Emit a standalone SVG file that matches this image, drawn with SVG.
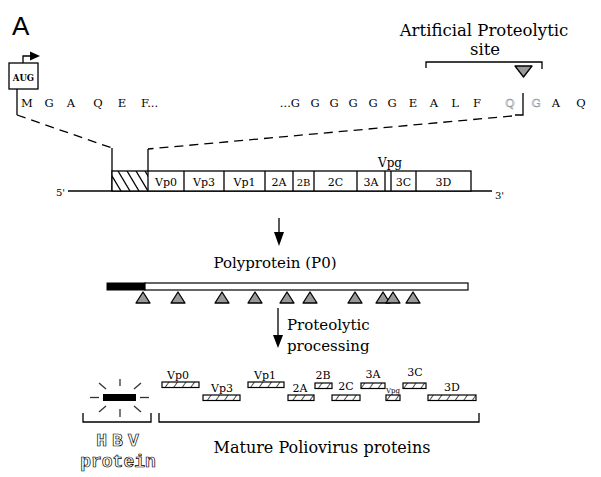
<svg xmlns="http://www.w3.org/2000/svg" width="601" height="477" viewBox="0 0 601 477">
<style>
.s{font-family:"DejaVu Serif","Liberation Serif",serif;fill:#000}
.seq{font-family:"DejaVu Serif","Liberation Serif",serif;font-size:11.5px;text-anchor:middle;fill:#000}
.ghost{font-family:"DejaVu Serif","Liberation Serif",serif;font-size:11.5px;text-anchor:middle;fill:#fff;stroke:#999;stroke-width:0.6}
.lbl{font-family:"DejaVu Serif","Liberation Serif",serif;font-size:11px;text-anchor:middle;fill:#000}
.ln{stroke:#000;stroke-width:1.3;fill:none}
.dash{stroke:#000;stroke-width:1.3;fill:none;stroke-dasharray:9 6}
.box{fill:#fff;stroke:#000;stroke-width:1.3}
.mp{fill:url(#hatch);stroke:#000;stroke-width:1.2}
.tri{fill:#999;stroke:#000;stroke-width:1.3;stroke-linejoin:round}
.ray{stroke:#333;stroke-width:1.3}
.hbv{font-family:"Liberation Mono","DejaVu Sans Mono",monospace;font-size:18px;font-weight:bold;text-anchor:middle;fill:#fff;stroke:#000;stroke-width:0.7}
</style>
<defs>
<pattern id="hatch" patternUnits="userSpaceOnUse" width="7" height="7" patternTransform="rotate(35)">
<rect width="7" height="7" fill="#fff"/>
<line x1="0" y1="0" x2="0" y2="7" stroke="#000" stroke-width="1.4"/>
</pattern>
<clipPath id="hclip"><rect x="112" y="171" width="36" height="20"/></clipPath>
</defs>

<text class="s" x="12" y="35" style="font-family:'Liberation Sans',Arial,sans-serif;font-size:26px">A</text>

<g id="aug">
<rect class="box" x="9" y="63" width="29" height="26"/>
<text class="s" x="23.5" y="81" text-anchor="middle" font-size="8.5" font-weight="bold">AUG</text>
<polyline class="ln" points="23,63 23,56 31,56"/>
<polygon points="30,51.5 40,56 30,60.5" fill="#000"/>
</g>

<g id="sequence">
<text class="seq" x="27" y="107">M</text>
<text class="seq" x="49" y="107">G</text>
<text class="seq" x="71" y="107">A</text>
<text class="seq" x="98" y="107">Q</text>
<text class="seq" x="122" y="107">E</text>
<text class="seq" x="141" y="107" style="text-anchor:start">F...</text>
<text class="seq" x="300" y="107" style="text-anchor:end">...G</text>
<text class="seq" x="315" y="107">G</text>
<text class="seq" x="334" y="107">G</text>
<text class="seq" x="353" y="107">G</text>
<text class="seq" x="373" y="107">G</text>
<text class="seq" x="392" y="107">G</text>
<text class="seq" x="413" y="107">E</text>
<text class="seq" x="434" y="107">A</text>
<text class="seq" x="455" y="107">L</text>
<text class="seq" x="477" y="107">F</text>
<text class="ghost" x="510" y="107">Q</text>
<text class="ghost" x="536" y="107">G</text>
<text class="seq" x="556" y="107">A</text>
<text class="seq" x="581" y="107">Q</text>
</g>

<g id="site">
<text class="s" x="484" y="36" text-anchor="middle" font-size="16.5">Artificial Proteolytic</text>
<text class="s" x="485" y="55" text-anchor="middle" font-size="16.5">site</text>
<polyline class="ln" points="426,68 426,62 542,62 542,69"/>
<polygon class="tri" points="515,66 532,66 523.5,77"/>
</g>

<g id="connectors">
<polyline class="ln" points="17,89 17,115"/>
<line class="dash" x1="17" y1="115" x2="112" y2="148"/>
<line class="ln" x1="112" y1="148" x2="112" y2="191"/>
<polyline class="ln" points="523,93 523,115 515,115"/>
<line class="dash" x1="512" y1="116" x2="148" y2="149"/>
<line class="ln" x1="148" y1="149" x2="148" y2="171"/>
<line class="ln" x1="279" y1="218" x2="279" y2="236"/>
<polygon points="274,232 284,232 279,246" fill="#000"/>
<line class="ln" x1="278" y1="308" x2="278" y2="338"/>
<polygon points="273,335 283,335 278,348" fill="#000"/>
</g>

<g id="gene">
<text class="s" x="56" y="196" font-size="10">5'</text>
<line class="ln" x1="68" y1="191" x2="492" y2="191"/>
<rect class="box" x="112" y="171" width="359" height="20"/>
<g clip-path="url(#hclip)" stroke="#000" stroke-width="1.3">
<line x1="100" y1="171" x2="112" y2="191"/>
<line x1="109" y1="171" x2="121" y2="191"/>
<line x1="118" y1="171" x2="130" y2="191"/>
<line x1="127" y1="171" x2="139" y2="191"/>
<line x1="136" y1="171" x2="148" y2="191"/>
<line x1="145" y1="171" x2="157" y2="191"/>
</g>
<g class="ln">
<line x1="148" y1="171" x2="148" y2="191"/>
<line x1="184" y1="171" x2="184" y2="191"/>
<line x1="224" y1="171" x2="224" y2="191"/>
<line x1="265" y1="171" x2="265" y2="191"/>
<line x1="293" y1="171" x2="293" y2="191"/>
<line x1="314" y1="171" x2="314" y2="191"/>
<line x1="357" y1="171" x2="357" y2="191"/>
<line x1="385" y1="171" x2="385" y2="191"/>
<line x1="391" y1="171" x2="391" y2="191"/>
<line x1="416" y1="171" x2="416" y2="191"/>
</g>
<text class="lbl" x="166" y="186">Vp0</text>
<text class="lbl" x="204" y="186">Vp3</text>
<text class="lbl" x="244.5" y="186">Vp1</text>
<text class="lbl" x="279" y="186">2A</text>
<text class="lbl" x="303.5" y="186" style="font-size:10px">2B</text>
<text class="lbl" x="335.5" y="186">2C</text>
<text class="lbl" x="371" y="186">3A</text>
<text class="lbl" x="403.5" y="186">3C</text>
<text class="lbl" x="443.5" y="186">3D</text>
<text class="lbl" x="390" y="167" style="font-size:12px">Vpg</text>
<text class="s" x="495" y="199" font-size="10">3'</text>
</g>

<g id="polyprotein">
<text class="s" x="275" y="268" text-anchor="middle" font-size="15">Polyprotein (P0)</text>
<rect x="107" y="283" width="38" height="7" fill="#000" stroke="#000" stroke-width="1"/>
<rect x="145" y="283" width="323" height="7" fill="#fff" stroke="#000" stroke-width="1.2"/>
<polygon class="tri" points="136,303 150,303 143,292"/>
<polygon class="tri" points="171,303 185,303 178,292"/>
<polygon class="tri" points="215,303 229,303 222,292"/>
<polygon class="tri" points="248,303 262,303 255,292"/>
<polygon class="tri" points="280,303 294,303 287,292"/>
<polygon class="tri" points="303,303 317,303 310,292"/>
<polygon class="tri" points="348,303 362,303 355,292"/>
<polygon class="tri" points="376,303 390,303 383,292"/>
<polygon class="tri" points="386,303 400,303 393,292"/>
<polygon class="tri" points="406,303 420,303 413,292"/>
</g>

<g id="processing">
<text class="s" x="287" y="330" font-size="15">Proteolytic</text>
<text class="s" x="287" y="351" font-size="15">processing</text>
</g>

<g id="hbv">
<rect x="103" y="394" width="33" height="7" fill="#000"/>
<line class="ray" x1="90" y1="397.5" x2="99" y2="397.5"/>
<line class="ray" x1="140" y1="397.5" x2="149" y2="397.5"/>
<line class="ray" x1="120" y1="379" x2="120" y2="386"/>
<line class="ray" x1="120" y1="409" x2="120" y2="417"/>
<line class="ray" x1="99" y1="383" x2="106" y2="389"/>
<line class="ray" x1="141" y1="383" x2="134" y2="389"/>
<line class="ray" x1="99" y1="412" x2="106" y2="406"/>
<line class="ray" x1="141" y1="412" x2="134" y2="406"/>
<polyline class="ln" points="83,413 83,422 151,422 151,413"/>
<text class="hbv" x="120" y="446" letter-spacing="5">HBV</text>
<text class="hbv" x="118" y="467">protein</text>
</g>

<g id="mature">
<rect class="mp" x="162" y="382" width="37" height="5.5"/>
<text class="lbl" x="178" y="379">Vp0</text>
<rect class="mp" x="203" y="395" width="37" height="5.5"/>
<text class="lbl" x="222" y="392">Vp3</text>
<rect class="mp" x="248" y="382" width="36" height="5.5"/>
<text class="lbl" x="265" y="379">Vp1</text>
<rect class="mp" x="288" y="395" width="26" height="5.5"/>
<text class="lbl" x="300" y="392">2A</text>
<rect class="mp" x="315" y="383" width="17" height="5.5"/>
<text class="lbl" x="323" y="379">2B</text>
<rect class="mp" x="332" y="395" width="28" height="5.5"/>
<text class="lbl" x="346" y="390">2C</text>
<rect class="mp" x="361" y="383" width="24" height="5.5"/>
<text class="lbl" x="373" y="378">3A</text>
<rect class="mp" x="386" y="395" width="14" height="5.5"/>
<text class="lbl" x="393" y="393" style="font-size:7px">Vpg</text>
<rect class="mp" x="403" y="383" width="23" height="5.5"/>
<text class="lbl" x="415" y="376">3C</text>
<rect class="mp" x="428" y="395" width="48" height="5.5"/>
<text class="lbl" x="452" y="391">3D</text>
<polyline class="ln" points="159,413 159,422 479,422 479,413"/>
<text class="s" x="322" y="453" text-anchor="middle" font-size="16">Mature Poliovirus proteins</text>
</g>
</svg>
